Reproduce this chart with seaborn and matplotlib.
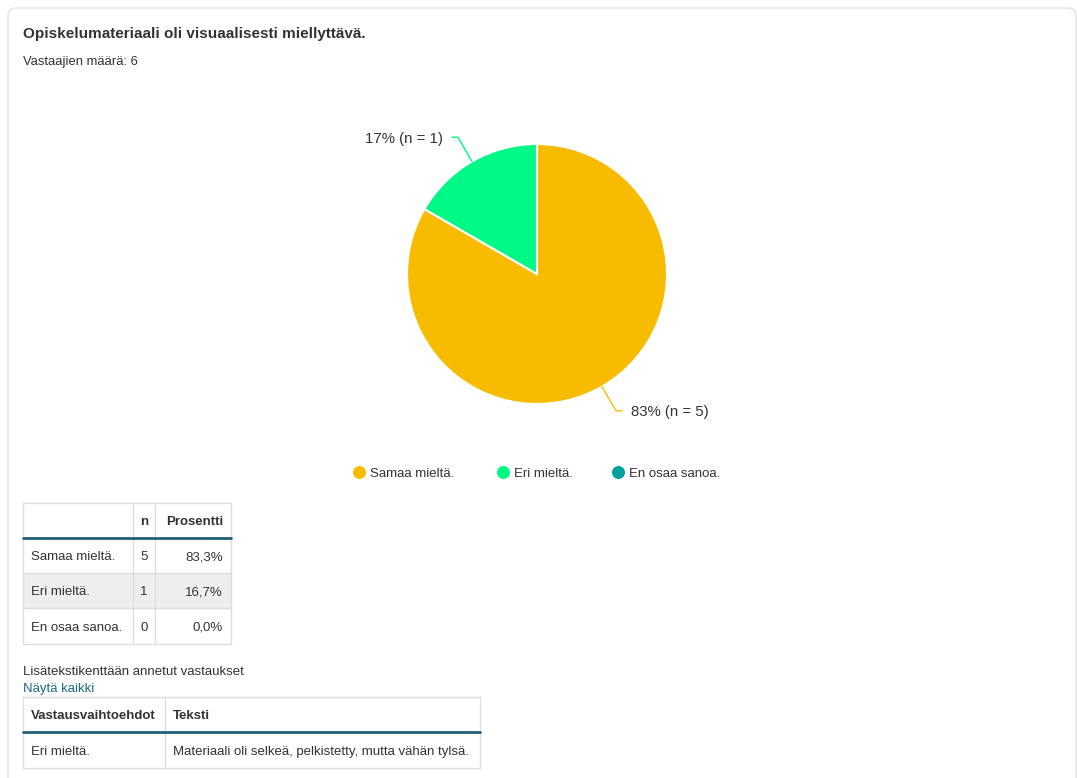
import seaborn as sns
import numpy as np
import matplotlib.pyplot as plt
from matplotlib.patches import FancyBboxPatch, Rectangle

title = "Opiskelumateriaali oli visuaalisesti miellyttävä."
subtitle = "Vastaajien määrä: 6"
categories = ["Samaa mieltä.", "Eri mieltä.", "En osaa sanoa."]
counts = [5, 1, 0]
slice_colors = ["#f7bc00", "#00f986", "#00a19d"]
table_header = ["", "n", "Prosentti"]
extra_title = "Lisätekstikenttään annetut vastaukset"
extra_link = "Näytä kaikki"
extra_header = ["Vastausvaihtoehdot", "Teksti"]
extra_rows = [["Eri mieltä.", "Materiaali oli selkeä, pelkistetty, mutta vähän tylsä."]]

W, H = 1077, 778
sns.set_theme(style="white")
plt.rcParams['font.family'] = ['Liberation Sans', 'DejaVu Sans']
palette = sns.color_palette(slice_colors)
TXT = "#333333"
GRID = "#dddddd"
DARK = "#22607a"
PX = 0.72  # px -> pt at dpi 100

fig = plt.figure(figsize=(W / 100, H / 100), dpi=100)
ax = fig.add_axes([0, 0, 1, 1])


def label(x, y, s, size, **kw):
    # y is the visual middle of the capitals; place baseline below it
    ax.text(x, y + 0.36 * size, s, fontsize=size * PX, va="baseline",
            color=kw.pop("color", TXT), **kw)


# card border
ax.add_patch(FancyBboxPatch((8, 8), 1068, 820, boxstyle="round,pad=0,rounding_size=8",
                            fc="white", ec="#e2e2e2", lw=1, zorder=0))

label(23, 33, title, 15.2, fontweight="bold")
label(23, 60, subtitle, 13)

# pie (y axis inverted -> start at -90 and go counterclockwise in data space)
cx, cy, R = 537, 274, 130
total = sum(counts)
wedges, _ = ax.pie(counts, colors=palette, startangle=-90, counterclock=True,
                   center=(cx, cy), radius=R,
                   wedgeprops=dict(edgecolor="white", linewidth=1.5))

for w, c, col in zip(wedges, counts, palette):
    if c == 0:
        continue
    mid = np.deg2rad((w.theta1 + w.theta2) / 2)
    dx, dy = np.cos(mid), np.sin(mid)
    p0 = (cx + R * dx, cy + R * dy)
    p1 = (cx + (R + 28) * dx, cy + (R + 28) * dy)
    side = 1 if dx > 0 else -1
    p2 = (p1[0] + 6 * side, p1[1])
    ax.plot([p0[0], p1[0], p2[0]], [p0[1], p1[1], p2[1]], color=col, lw=1)
    lbl = f"{round(100 * c / total)}% (n = {c})"
    label(p2[0] + 9 * side, p2[1], lbl, 15, ha="left" if side > 0 else "right")

# legend
leg_x = [359, 503, 618]
for x, cat, col in zip(leg_x, categories, palette):
    ax.scatter([x], [472], s=(13 * PX) ** 2, color=col, zorder=3, linewidths=0)
    label(x + 11, 472, cat, 13.2)


def draw_table(xs, ys, header, rows, aligns, shade=None):
    for i in range(len(ys) - 1):
        if shade is not None and i - 1 in shade:
            ax.add_patch(Rectangle((xs[0], ys[i]), xs[-1] - xs[0], ys[i + 1] - ys[i],
                                   fc="#eeeeee", ec="none", zorder=1))
    for x in xs:
        ax.plot([x, x], [ys[0], ys[-1]], color=GRID, lw=1, zorder=2)
    for y in ys:
        ax.plot([xs[0], xs[-1]], [y, y], color=GRID, lw=1, zorder=2)
    ax.plot([xs[0], xs[-1]], [ys[1], ys[1]], color=DARK, lw=2, zorder=3)
    for r, cells in enumerate([header] + rows):
        yc = (ys[r] + ys[r + 1]) / 2
        for j, cell in enumerate(cells):
            a = aligns[j]
            if a == "left":
                x = xs[j] + 8
            elif a == "right":
                x = xs[j + 1] - 8
            else:
                x = (xs[j] + xs[j + 1]) / 2
            label(x, yc, cell, 13.2, ha=a, zorder=4,
                  fontweight="bold" if r == 0 else "normal")


rows = [[cat, str(c), f"{100 * c / total:.1f}%".replace(".", ",")]
        for cat, c in zip(categories, counts)]
draw_table([23, 133, 155, 231], [503, 538, 573, 608, 644], table_header, rows,
           ["left", "center", "right"], shade=[1])

label(23, 670, extra_title, 13.2)
label(23, 687, extra_link, 13.2, color="#1b6b82")
draw_table([23, 165, 480], [697, 732, 768], extra_header, extra_rows, ["left", "left"])

ax.set_xlim(0, W)
ax.set_ylim(H, 0)
ax.set_aspect("auto")
ax.axis("off")
fig.savefig("out.png", dpi=100)
